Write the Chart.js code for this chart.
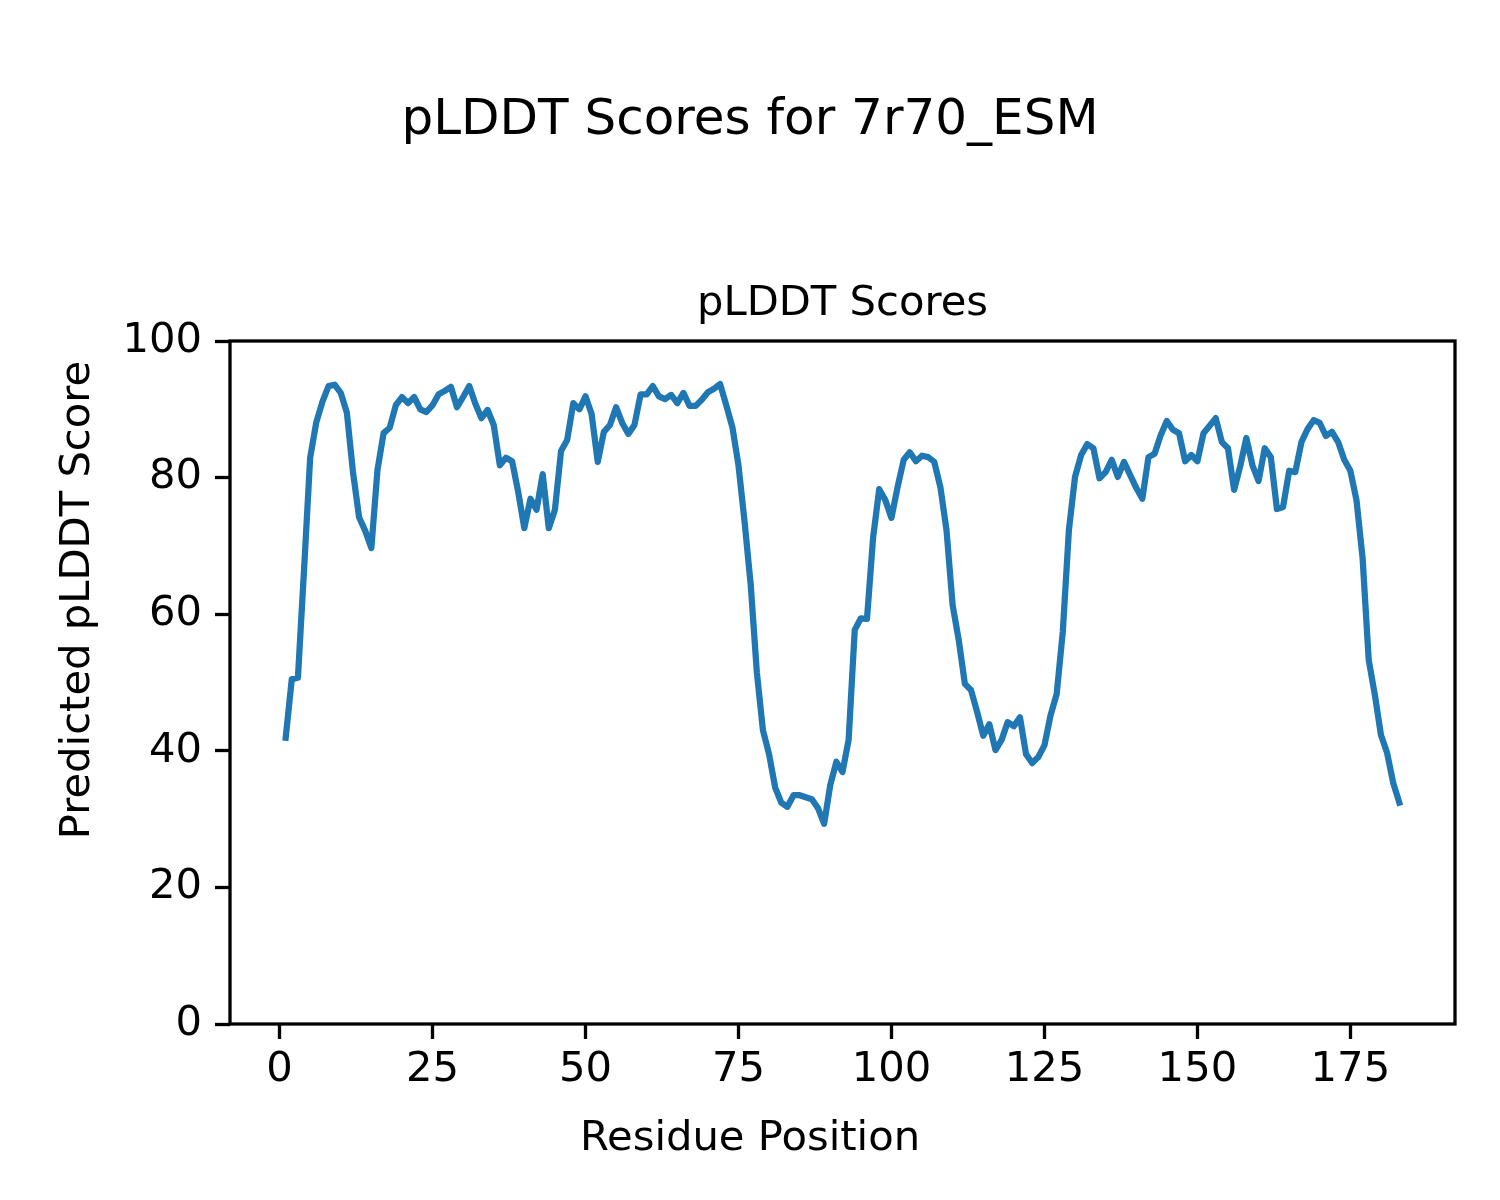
<!DOCTYPE html>
<html>
<head>
<meta charset="utf-8">
<script src="https://cdn.jsdelivr.net/npm/chart.js@4.4.1/dist/chart.umd.min.js"></script>
<style>
  html, body { margin: 0; padding: 0; background: #fff; }
  canvas { display: block; }
</style>
</head>
<body>
<canvas id="myChart" width="1500" height="1200"></canvas>
<script>
const figTitle = 'pLDDT Scores for 7r70_ESM';
const axTitle = 'pLDDT Scores';
const xLabel = 'Residue Position';
const yLabel = 'Predicted pLDDT Score';

const scores = [
  41.9, 50.5, 50.7, 66.5, 82.9, 88.1, 91.1, 93.4, 93.6, 92.4,
  89.5, 80.8, 74.2, 72.2, 69.7, 81.1, 86.5, 87.3, 90.6, 91.8,
  90.9, 91.8, 90.0, 89.6, 90.6, 92.2, 92.7, 93.3, 90.3, 91.8,
  93.4, 90.8, 88.7, 89.9, 87.7, 81.8, 82.9, 82.4, 77.9, 72.6,
  76.9, 75.3, 80.5, 72.6, 75.3, 83.9, 85.5, 90.9, 90.0, 91.9,
  89.3, 82.3, 86.7, 87.7, 90.3, 88.0, 86.4, 87.7, 92.2, 92.2,
  93.4, 91.9, 91.5, 92.1, 90.9, 92.4, 90.5, 90.5, 91.4, 92.5,
  93.0, 93.7, 90.6, 87.4, 81.8, 73.5, 64.3, 51.5, 43.0, 39.5,
  34.6, 32.4, 31.8, 33.5, 33.5, 33.2, 32.9, 31.6, 29.3, 35.0,
  38.4, 36.9, 41.6, 57.7, 59.4, 59.3, 71.2, 78.3, 76.7, 74.1,
  78.6, 82.6, 83.7, 82.4, 83.2, 83.0, 82.3, 78.6, 72.3, 61.3,
  56.2, 49.8, 48.9, 45.7, 42.2, 43.9, 40.1, 41.6, 44.2, 43.6,
  44.9, 39.5, 38.2, 39.1, 40.8, 45.2, 48.3, 57.4, 72.3, 80.1,
  83.3, 84.9, 84.3, 79.9, 80.8, 82.6, 80.1, 82.3, 80.4, 78.5,
  76.9, 83.0, 83.5, 86.2, 88.3, 87.0, 86.5, 82.4, 83.3, 82.4,
  86.5, 87.6, 88.7, 85.2, 84.3, 78.2, 81.7, 85.8, 81.8, 79.5,
  84.3, 83.0, 75.4, 75.7, 81.0, 80.8, 85.2, 87.1, 88.4, 88.0,
  86.1, 86.7, 85.2, 82.6, 81.0, 76.7, 68.2, 53.3, 48.2, 42.3,
  39.7, 35.3, 32.4
];

const xTicks = [0, 25, 50, 75, 100, 125, 150, 175];
const yTicks = [0, 20, 40, 60, 80, 100];

const points = scores.map((v, i) => ({ x: i + 1, y: v }));
const xMin = 1 - 0.05 * (scores.length - 1);
const xMax = scores.length + 0.05 * (scores.length - 1);

const FONT = "'DejaVu Sans', sans-serif";
const TICK_FONT = { family: FONT, size: 41.7 };

const textPlugin = {
  id: 'texts',
  afterDraw(chart) {
    const c = chart.ctx;
    const a = chart.chartArea;
    c.save();
    // axes frame
    c.strokeStyle = '#000';
    c.lineWidth = 3.3;
    c.strokeRect(a.left, a.top, a.right - a.left, a.bottom - a.top);
    c.fillStyle = '#000';
    c.textAlign = 'center';
    c.textBaseline = 'middle';
    c.font = '50px ' + FONT;
    c.fillText(figTitle, 750, 121);
    c.font = '41.7px ' + FONT;
    c.fillText(axTitle, (a.left + a.right) / 2, 304);
    c.fillText(xLabel, 750, 1139);
    c.translate(78, 600);
    c.rotate(-Math.PI / 2);
    c.fillText(yLabel, 0, 0);
    c.restore();
  }
};

const ctx = document.getElementById('myChart');

new Chart(ctx, {
  type: 'line',
  data: {
    datasets: [{
      data: points,
      borderColor: '#1f77b4',
      borderWidth: 6.25,
      borderJoinStyle: 'round',
      borderCapStyle: 'square',
      pointRadius: 0,
      tension: 0,
      fill: false
    }]
  },
  options: {
    responsive: false,
    devicePixelRatio: 1,
    animation: false,
    layout: { padding: { top: 341, right: 45, left: 0, bottom: 0 } },
    plugins: {
      legend: { display: false },
      title: { display: false },
      tooltip: { enabled: false }
    },
    scales: {
      x: {
        type: 'linear',
        min: xMin,
        max: xMax,
        afterBuildTicks: (scale) => { scale.ticks = xTicks.map(v => ({ value: v })); },
        afterFit: (scale) => { scale.height = 176; },
        grid: {
          drawOnChartArea: false,
          drawTicks: true,
          tickLength: 15,
          tickWidth: 3.3,
          tickColor: '#000'
        },
        border: { display: false },
        ticks: {
          color: '#000',
          font: TICK_FONT,
          padding: 6,
          maxRotation: 0,
          autoSkip: false
        }
      },
      y: {
        min: 0,
        max: 100,
        afterBuildTicks: (scale) => { scale.ticks = yTicks.map(v => ({ value: v })); },
        afterFit: (scale) => { scale.width = 230; },
        grid: {
          drawOnChartArea: false,
          drawTicks: true,
          tickLength: 15,
          tickWidth: 3.3,
          tickColor: '#000'
        },
        border: { display: false },
        ticks: {
          color: '#000',
          font: TICK_FONT,
          padding: 13,
          autoSkip: false
        }
      }
    }
  },
  plugins: [textPlugin]
});
</script>
</body>
</html>
